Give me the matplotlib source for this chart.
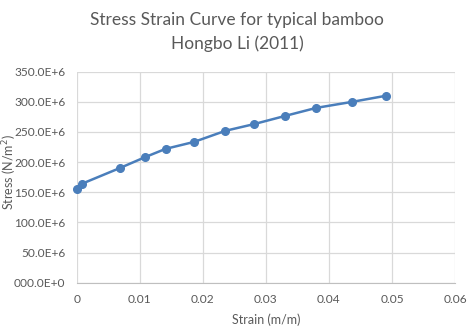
import matplotlib.pyplot as plt
from matplotlib.ticker import FuncFormatter

# donnees (Hongbo Li 2011)
strain = [0.0001, 0.0008, 0.0068, 0.0109, 0.0141, 0.0186, 0.0236,
          0.0281, 0.0330, 0.0380, 0.0437, 0.0490]
stress_mpa = [155, 164, 190, 208.5, 222, 233.5, 252, 263, 276.5,
              290, 300, 310]
stress = [s * 1e6 for s in stress_mpa]

x_ticks = [0, 0.01, 0.02, 0.03, 0.04, 0.05, 0.06]
y_ticks = [0, 50e6, 100e6, 150e6, 200e6, 250e6, 300e6, 350e6]

plt.rcParams['font.family'] = ['Lato', 'DejaVu Sans']

W, H = 474, 328
fig = plt.figure(figsize=(W / 100, H / 100), dpi=100)
ax = fig.add_axes([76.7 / W, 1 - 282.7 / H, (455 - 76.7) / W, (282.7 - 71.7) / H])

ax.plot(strain, stress, color='#4a7ebb', lw=1.8, marker='o', ms=5.5,
        markeredgecolor='#4a7ebb', zorder=3, clip_on=False)

ax.set_xlim(0, 0.06)
ax.set_ylim(0, 350e6)
ax.set_xticks(x_ticks)
ax.set_yticks(y_ticks)
ax.xaxis.set_major_formatter(FuncFormatter(lambda v, p: '0' if v == 0 else f'{v:g}'))


def fmt_y(v, p):
    if v == 0:
        return '000.0E+0'
    return f'{v / 1e6:.1f}E+6'


ax.yaxis.set_major_formatter(FuncFormatter(fmt_y))
ax.grid(True, color='#d9d9d9', lw=0.9)
ax.set_axisbelow(True)
for s in ['top', 'right', 'left']:
    ax.spines[s].set_visible(False)
ax.spines['bottom'].set_color('#bfbfbf')
ax.tick_params(axis='y', length=0, labelsize=8.6, colors='#595959', pad=8)
ax.tick_params(axis='x', length=0, labelsize=8.6, colors='#595959', pad=8)

ax.set_xlabel('Strain (m/m)', fontsize=9, color='#595959', labelpad=6)
fig.text(10 / W, 1 - 172 / H, 'Stress (N/m$^2$)', rotation=90, fontsize=9,
         color='#595959', ha='center', va='center')

fig.suptitle('Stress Strain Curve for typical bamboo\nHongbo Li (2011)',
             fontsize=12.5, color='#595959', y=0.962, linespacing=1.5)

fig.savefig('out.png', dpi=100)
